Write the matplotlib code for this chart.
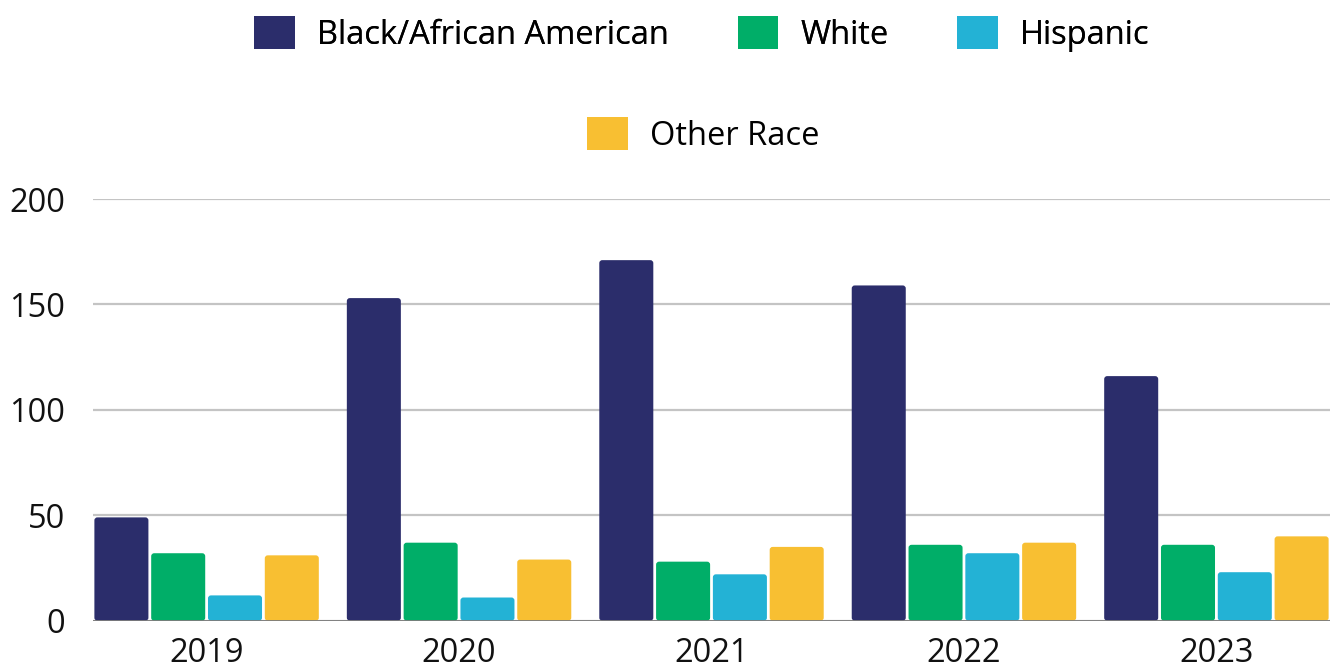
import matplotlib
matplotlib.use("Agg")
import matplotlib.pyplot as plt
from matplotlib.patches import Patch, FancyBboxPatch
import numpy as np

years = ["2019", "2020", "2021", "2022", "2023"]
series_names = ["Black/African American", "White", "Hispanic", "Other Race"]
black = [49, 153, 171, 159, 116]
white = [32, 37, 28, 36, 36]
hispanic = [12, 11, 22, 32, 23]
other = [31, 29, 35, 37, 40]
colors = ["#2B2D6B", "#00AE68", "#23B2D5", "#F8BF32"]
yticks = [0, 50, 100, 150, 200]

plt.rcParams['font.family'] = ['Open Sans', 'DejaVu Sans']

fig = plt.figure(figsize=(13.34, 6.69), dpi=100)
ax = fig.add_axes([93/1334, 1-620.7/669, (1330-93)/1334, (620.7-199)/669])

x = np.arange(len(years))
slot = 0.225
bw = 0.214
data = [black, white, hispanic, other]
rx = 0.012
for i, (vals, c) in enumerate(zip(data, colors)):
    bars = ax.bar(x - 0.45 + slot*(i+0.5), vals, width=bw, color=c, zorder=3,
                  label=series_names[i])
    for b in bars:
        b.set_visible(False)
        fb = FancyBboxPatch((b.get_x() + rx, b.get_y() + rx*117), b.get_width() - 2*rx,
                            b.get_height() - 2*rx*117,
                            boxstyle=f"round,pad={rx},rounding_size={rx}",
                            mutation_aspect=117, facecolor=c, edgecolor='none', zorder=3)
        ax.add_patch(fb)

ax.set_xlim(-0.45, len(years)-1+0.45)
ax.set_ylim(0, 200)
ax.set_yticks(yticks)
ax.set_yticklabels([str(v) for v in yticks])
ax.set_xticks(x)
ax.set_xticklabels(years)
ax.tick_params(axis='y', length=0, pad=20, labelsize=23.5, colors='#111111')
ax.tick_params(axis='x', length=0, pad=12, labelsize=23.5, colors='#111111')
for s in ax.spines.values():
    s.set_visible(False)
ax.grid(axis='y', color='#c4c4c4', linewidth=1.6, zorder=0)
ax.axhline(0, color='#7a7a7a', linewidth=2, zorder=4)

handles = [Patch(facecolor=c, edgecolor='none') for c in colors]
leg1 = fig.legend(handles[:3], series_names[:3], loc='center', bbox_to_anchor=(702/1334, 1-34/669),
                  ncol=3, frameon=False, fontsize=23.5, handlelength=1.25, handleheight=1.15,
                  handletextpad=0.68, columnspacing=2.1)
leg2 = fig.legend(handles[3:], series_names[3:], loc='center', bbox_to_anchor=(703/1334, 1-135/669),
                  ncol=1, frameon=False, fontsize=23.5, handlelength=1.25, handleheight=1.15,
                  handletextpad=0.68)
fig.add_artist(leg1)

fig.savefig("out.png", dpi=100)
